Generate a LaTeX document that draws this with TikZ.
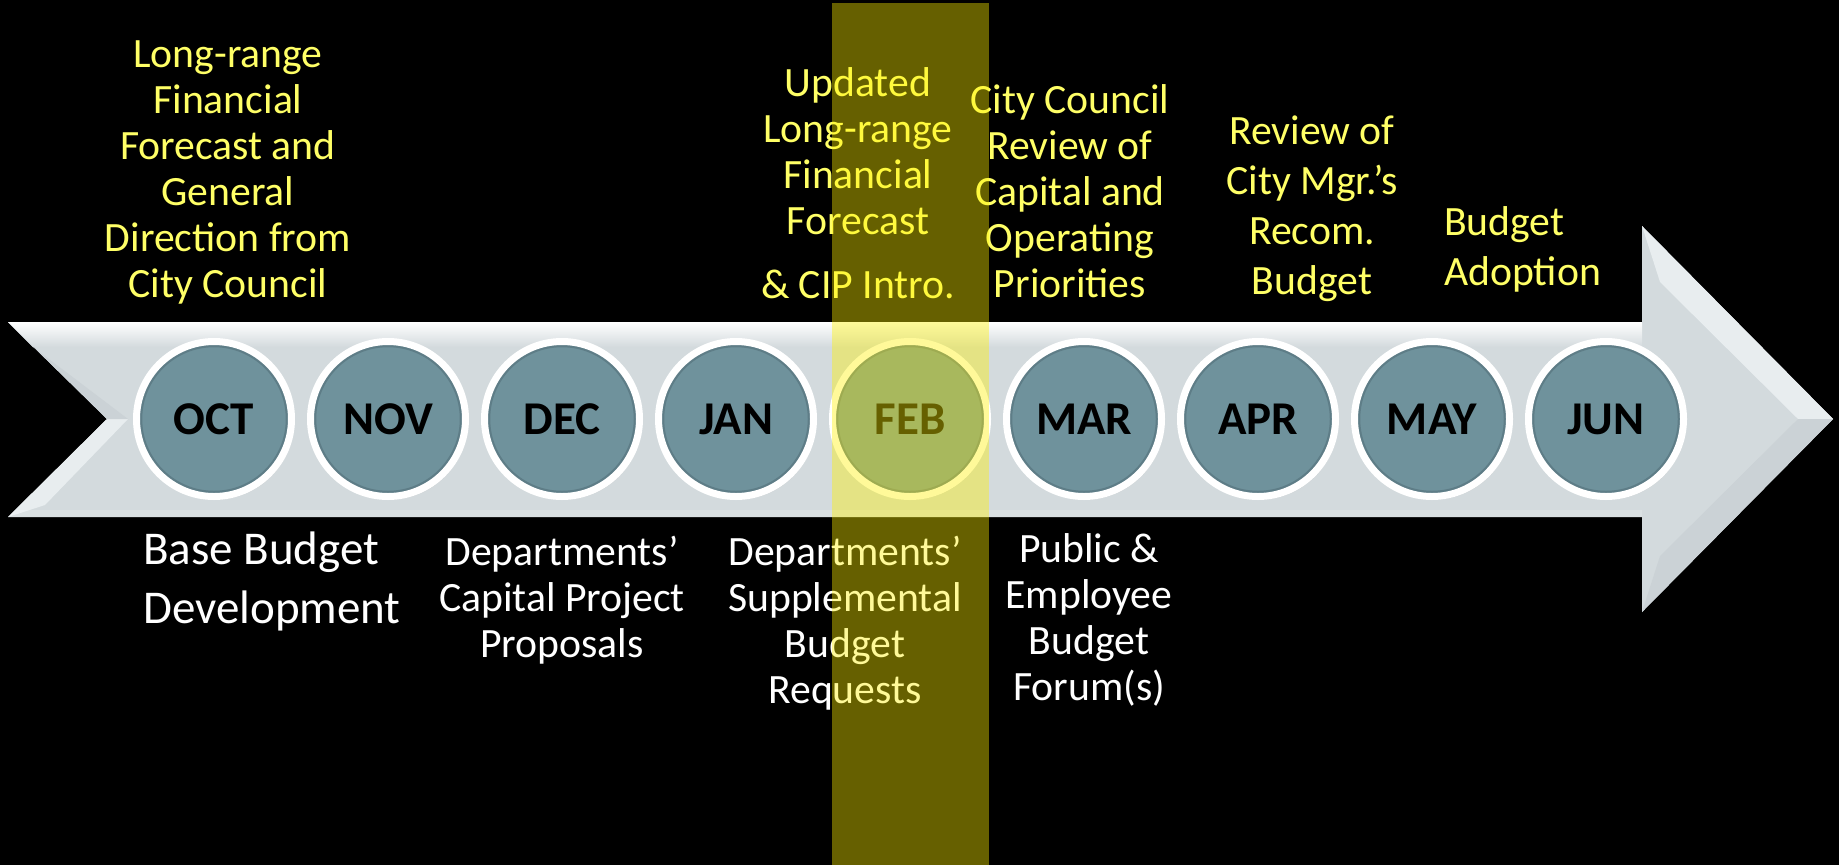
\documentclass[tikz,border=0pt]{standalone}
\usepackage{fontspec}
\setmainfont{Carlito}
\usepackage{xcolor}
\usepackage{tikz}
\usetikzlibrary{calc,positioning,shadows}
\definecolor{monthteal}{RGB}{111,146,156}
\definecolor{rimteal}{RGB}{78,106,115}
\definecolor{arrowgray}{RGB}{211,218,221}
\definecolor{facetgray}{RGB}{232,237,239}
\definecolor{sidegray}{RGB}{203,210,214}
\definecolor{noteyellow}{RGB}{255,255,102}
\tikzstyle{month} = [circle, draw=white, line width=7pt, fill=monthteal, minimum size=155pt, inner sep=0pt, text=black, font=\fontsize{47}{50}\selectfont\bfseries, drop shadow={shadow xshift=2pt, shadow yshift=-3pt, opacity=0.25}, path picture={\draw[rimteal, line width=2.5pt, opacity=0.5] (path picture bounding box.center) circle (73pt);}]
\tikzstyle{plan} = [text=noteyellow, align=center, anchor=base, inner sep=0pt, font=\fontsize{41.7}{46}\selectfont]
\tikzstyle{task} = [text=white, align=center, anchor=base, inner sep=0pt, font=\fontsize{41.7}{46}\selectfont]

\begin{document}
\begin{tikzpicture}[x=1pt, y=-1pt, node distance=0pt]

\fill [black] (0,0) rectangle (1839,865);
\useasboundingbox (0,0) rectangle (1839,865);

% timeline arrow
\fill [arrowgray] (8,322) -- (1642,322) -- (1642,226) -- (1833,419) -- (1642,612) -- (1642,517) -- (8,517) -- (107,419) -- cycle;
\shade [top color=white, bottom color=arrowgray] (8,322) -- (1642,322) -- (1642,347) -- (33,347) -- cycle;
\fill [facetgray] (8,517) -- (107,419) -- (128,419) -- (45,505) -- cycle;
\fill [sidegray] (8,322) -- (107,419) -- (128,419) -- (33,347) -- cycle;
\fill [white, opacity=0.2] (8,517) -- (1642,517) -- (1642,510) -- (15,510) -- cycle;
\fill [facetgray] (1642,226) -- (1833,419) -- (1798,419) -- (1660,282) -- cycle;
\fill [sidegray] (1833,419) -- (1642,612) -- (1660,556) -- (1798,419) -- cycle;

\node [month] (oct) at (214,419) {OCT};
\node [month, right=12pt of oct] (nov) {NOV};
\node [month, right=12pt of nov] (dec) {DEC};
\node [month, right=12pt of dec] (jan) {JAN};
\node [month, right=12pt of jan] (feb) {FEB};
\node [month, right=12pt of feb] (mar) {MAR};
\node [month, right=12pt of mar] (apr) {APR};
\node [month, right=12pt of apr] (may) {MAY};
\node [month, right=12pt of may] (jun) {JUN};

% council steps above
\node [plan] (plan1) at ($(oct) + (14,-122)$) {Long-range\\Financial\\Forecast and\\General\\Direction from\\City Council};
\node [plan] (plan2) at ($(feb) + (-52,-121)$) {Updated\\Long-range\\Financial\\Forecast\\[18pt]\& CIP Intro.};
\node [plan] (plan3) at ($(mar) + (-14,-122)$) {City Council\\Review of\\Capital and\\Operating\\Priorities};
\node [plan, font=\fontsize{41.7}{50}\selectfont] (plan4) at ($(apr) + (54,-125)$) {Review of\\City Mgr.’s\\Recom.\\Budget};
\node [plan, font=\fontsize{41.7}{50}\selectfont, align=left, anchor=base west] (plan5) at ($(may) + (12,-134)$) {Budget\\Adoption};

% department steps below
\node [task, font=\fontsize{47}{59}\selectfont, align=left, anchor=base west] (task1) at ($(oct) + (-71,204)$) {Base Budget\\Development};
\node [task] (task2) at ($(dec) + (0,238)$) {Departments’\\Capital Project\\Proposals};
\node [task] (task3) at ($(feb) + (-65,284)$) {Departments’\\Supplemental\\Budget\\Requests};
\node [task] (task4) at ($(mar) + (5,281)$) {Public \&\\Employee\\Budget\\Forum(s)};

% highlight on the current month
\fill [yellow, fill opacity=0.4] ($(feb) + (-78,-416)$) rectangle ($(feb) + (79,446)$);

\end{tikzpicture}
\end{document}
